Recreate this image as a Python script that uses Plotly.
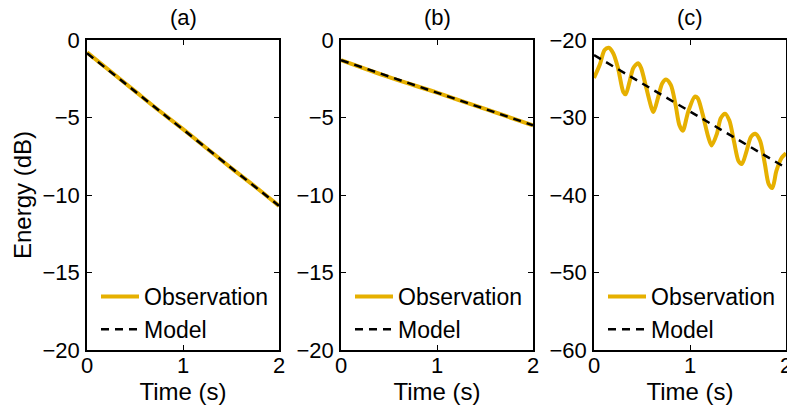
import plotly.graph_objects as go

# ---- data ----
t_obs_a = [0.0, 0.25, 0.5, 0.75, 1.0, 1.25, 1.5, 1.75, 2.0]
e_obs_a = [-0.8, -2.05, -3.3, -4.55, -5.75, -7.0, -8.25, -9.45, -10.7]
t_mod_a = [0.0, 2.0]
e_mod_a = [-0.85, -10.7]

t_obs_b = [0.0, 0.5, 1.0, 1.5, 2.0]
e_obs_b = [-1.3, -2.4, -3.4, -4.45, -5.5]
t_mod_b = [0.0, 2.0]
e_mod_b = [-1.3, -5.5]

t_obs_c = [0.0, 0.06, 0.11, 0.153, 0.2, 0.25, 0.305, 0.33, 0.37, 0.41, 0.46, 0.49,
           0.545, 0.6, 0.62, 0.67, 0.71, 0.75, 0.8, 0.85, 0.89, 0.925, 0.98, 1.05,
           1.08, 1.13, 1.19, 1.225, 1.28, 1.32, 1.365, 1.41, 1.46, 1.505, 1.54,
           1.59, 1.635, 1.68, 1.73, 1.78, 1.82, 1.857, 1.9, 1.955, 2.0]
e_obs_c = [-24.9, -23.2, -21.3, -21.0, -21.7, -23.6, -26.7, -27.0, -25.4, -23.6, -23.0, -23.6,
           -26.2, -28.8, -29.3, -27.3, -25.6, -25.1, -25.8, -28.4, -31.0, -31.7, -29.3, -27.3,
           -27.5, -29.5, -32.5, -33.6, -32.1, -30.1, -29.5, -30.4, -33.2, -35.6, -36.0,
           -34.3, -32.5, -32.1, -33.0, -36.0, -38.6, -39.1, -36.9, -35.2, -34.6]
t_mod_c = [0.0, 2.0]
e_mod_c = [-21.95, -36.5]

panel_titles = ["(a)", "(b)", "(c)"]
y_ranges = [[-20, 0], [-20, 0], [-60, -20]]
y_ticks = [[0, -5, -10, -15, -20], [0, -5, -10, -15, -20], [-20, -30, -40, -50, -60]]
x_ticks = [0, 1, 2]

OBS_COLOR = "#E6B000"
FONT = "Liberation Sans, Arial, Helvetica, sans-serif"
FS = 22
FS_TXT = 24
FS_LEG = 23
W, H = 787, 405

panels = [
    (t_obs_a, e_obs_a, t_mod_a, e_mod_a),
    (t_obs_b, e_obs_b, t_mod_b, e_mod_b),
    (t_obs_c, e_obs_c, t_mod_c, e_mod_c),
]
x_px = [(87, 279), (341, 533), (594, 786)]
y_px = (40, 350)
legend_names = ["legend", "legend2", "legend3"]

fig = go.Figure()
layout = dict(
    width=W, height=H,
    margin=dict(l=0, r=0, t=0, b=0, autoexpand=False),
    paper_bgcolor="white", plot_bgcolor="white",
    font=dict(family=FONT, size=FS, color="black"),
    showlegend=True,
)

annotations = []
for i, (to, eo, tm, em) in enumerate(panels):
    sfx = "" if i == 0 else str(i + 1)
    xa, ya = "x" + sfx, "y" + sfx
    lg = legend_names[i]
    fig.add_trace(go.Scatter(x=to, y=eo, mode="lines", name="Observation",
                             line=dict(color=OBS_COLOR, width=4, shape="spline", smoothing=0.8),
                             xaxis=xa, yaxis=ya, legend=lg))
    fig.add_trace(go.Scatter(x=tm, y=em, mode="lines", name="Model",
                             line=dict(color="black", width=2.5, dash="8px,6px"),
                             xaxis=xa, yaxis=ya, legend=lg))
    x0, x1 = x_px[i][0] / W, x_px[i][1] / W
    y0, y1 = 1 - y_px[1] / H, 1 - y_px[0] / H
    axcommon = dict(showline=True, linecolor="black", linewidth=1.5, mirror="allticks",
                    ticks="inside", ticklen=5, tickwidth=1, tickcolor="black",
                    showgrid=False, zeroline=False, automargin=False,
                    tickfont=dict(family=FONT, size=FS, color="black"))
    layout["xaxis" + sfx] = dict(domain=[x0, x1], range=[0, 2], tickvals=x_ticks,
                                 anchor=ya, ticklabelstandoff=-5, ticklabeloverflow="allow",
                                 title=dict(text="Time (s)", standoff=5,
                                            font=dict(family=FONT, size=FS_TXT)),
                                 **axcommon)
    ydict = dict(domain=[y0, y1], range=y_ranges[i], tickvals=y_ticks[i],
                 anchor=xa, ticklabelstandoff=1, **axcommon)
    if i == 0:
        ydict["title"] = dict(text="Energy (dB)", standoff=4, font=dict(family=FONT, size=FS_TXT))
    layout["yaxis" + sfx] = ydict
    annotations.append(dict(text=panel_titles[i], x=(x0 + x1) / 2, y=1 - 18 / H,
                            xref="paper", yref="paper", showarrow=False,
                            xanchor="center", yanchor="middle",
                            font=dict(family=FONT, size=FS)))
    layout[lg] = dict(x=(x_px[i][0] + 9) / W, y=1 - 275 / H, xanchor="left", yanchor="top",
                      bgcolor="rgba(0,0,0,0)", borderwidth=0,
                      itemwidth=38, font=dict(family=FONT, size=FS_LEG))

layout["annotations"] = annotations
fig.update_layout(**layout)
fig.write_html("out.html")
